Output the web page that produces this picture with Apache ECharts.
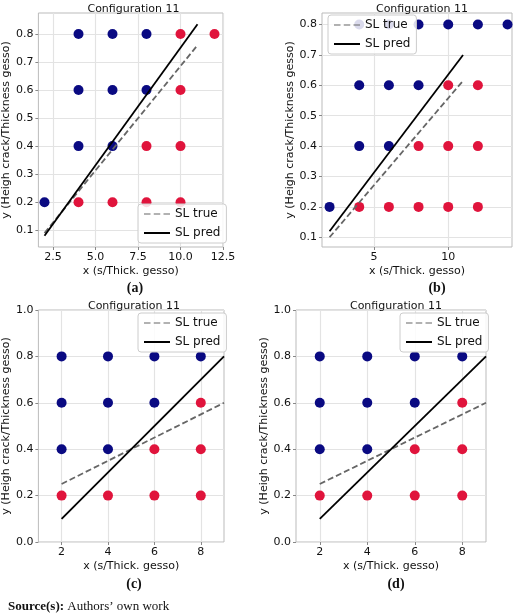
<!DOCTYPE html>
<html>
<head>
<meta charset="utf-8">
<script src="https://cdn.jsdelivr.net/npm/echarts@6.0.0/dist/echarts.min.js"></script>
<style>html,body{margin:0;background:#fff}#myChart{width:520px;height:613px}</style>
</head>
<body>
<div id="myChart"></div>
<script>
// points per panel: [x, y]
var BLUE_A = [[2,0.2],[4,0.4],[4,0.6],[4,0.8],[6,0.4],[6,0.6],[6,0.8],[8,0.6],[8,0.8]];
var RED_A = [[4,0.2],[6,0.2],[8,0.2],[10,0.2],[8,0.4],[10,0.4],[10,0.6],[10,0.8],[12,0.8]];
var TRUE_A = [[2,0.09],[11,0.76]];
var PRED_A = [[2,0.08],[11,0.835]];

var BLUE_B = [[2,0.2],[4,0.4],[6,0.4],[4,0.6],[6,0.6],[8,0.6],[4,0.8],[6,0.8],[8,0.8],[10,0.8],[12,0.8],[14,0.8]];
var RED_B = [[4,0.2],[6,0.2],[8,0.2],[10,0.2],[12,0.2],[8,0.4],[10,0.4],[12,0.4],[10,0.6],[12,0.6]];
var TRUE_B = [[2,0.10],[11,0.615]];
var PRED_B = [[2,0.12],[11,0.70]];

var BLUE_C = [[2,0.4],[2,0.6],[2,0.8],[4,0.4],[4,0.6],[4,0.8],[6,0.6],[6,0.8],[8,0.8]];
var RED_C = [[2,0.2],[4,0.2],[6,0.2],[6,0.4],[8,0.2],[8,0.4],[8,0.6]];
var TRUE_C = [[2,0.25],[9,0.6]];
var PRED_C = [[2,0.1],[9,0.8]];

var XTICKS_A = [2.5,5,7.5,10,12.5];
var XTICKS_B = [5,10];
var XTICKS_CD = [2,4,6,8];
var YTICKS_AB = [0.1,0.2,0.3,0.4,0.5,0.6,0.7,0.8];
var YTICKS_CD = [0,0.2,0.4,0.6,0.8,1.0];

var FONT = 'DejaVu Sans';
var DASH_ICON = 'path://M0,0h6v1h-6z M9,0h6v1h-6z M18,0h6v1h-6z';
var panels = [
  {grid:{left:34,top:13,width:189,height:234}, x:[1.64,12.5], y:[0.04,0.875], xt:XTICKS_A, xd:1, yt:YTICKS_AB,
   blue:BLUE_A, red:RED_A, tru:TRUE_A, pred:PRED_A, legend:{left:138,top:204}, tag:'(a)', tagX:130, tagY:276},
  {grid:{left:322,top:13,width:190,height:234}, x:[1.49,14.3], y:[0.068,0.838], xt:XTICKS_B, xd:0, yt:YTICKS_AB,
   blue:BLUE_B, red:RED_B, tru:TRUE_B, pred:PRED_B, legend:{left:328,top:15}, tag:'(b)', tagX:432, tagY:276},
  {grid:{left:34,top:310,width:190,height:232}, x:[1,9], y:[0,1], xt:XTICKS_CD, xd:0, yt:YTICKS_CD,
   blue:BLUE_C, red:RED_C, tru:TRUE_C, pred:PRED_C, legend:{left:138,top:313}, tag:'(c)', tagX:129, tagY:572},
  {grid:{left:296,top:310,width:190,height:232}, x:[1,9], y:[0,1], xt:XTICKS_CD, xd:0, yt:YTICKS_CD,
   blue:BLUE_C, red:RED_C, tru:TRUE_C, pred:PRED_C, legend:{left:400,top:313}, tag:'(d)', tagX:391, tagY:572}
];

var option = {animation:false, grid:[], xAxis:[], yAxis:[], series:[], legend:[], title:[]};
panels.forEach(function (p, i) {
  option.grid.push(Object.assign({show:true, borderColor:'#bbb', borderWidth:1, backgroundColor:'#fff'}, p.grid));
  option.xAxis.push({
    type:'value', gridIndex:i, min:p.x[0], max:p.x[1],
    name:'x (s/Thick. gesso)', nameLocation:'middle', nameGap:19,
    nameTextStyle:{fontFamily:FONT, fontSize:11, color:'#111'},
    axisLine:{show:false}, axisTick:{show:true, length:3, lineStyle:{color:'#888'}, customValues:p.xt},
    axisLabel:{fontFamily:FONT, fontSize:11, color:'#111', margin:5, customValues:p.xt,
      formatter:function (v) { return v.toFixed(p.xd); }},
    splitLine:{show:true, lineStyle:{color:'#e3e3e3', width:1.2}}
  });
  option.yAxis.push({
    type:'value', gridIndex:i, min:p.y[0], max:p.y[1],
    name:'y (Heigh crack/Thickness gesso)', nameLocation:'middle', nameGap:25,
    nameTextStyle:{fontFamily:FONT, fontSize:11, color:'#111'},
    axisLine:{show:false}, axisTick:{show:true, length:3, lineStyle:{color:'#888'}, customValues:p.yt},
    axisLabel:{fontFamily:FONT, fontSize:11, color:'#111', margin:5, customValues:p.yt,
      formatter:function (v) { return v.toFixed(1); }},
    splitLine:{show:true, lineStyle:{color:'#e3e3e3', width:1.2}}
  });
  option.series.push(
    {type:'scatter', xAxisIndex:i, yAxisIndex:i, symbolSize:10, data:p.blue, itemStyle:{color:'#0a0a82', opacity:1}, z:2},
    {type:'scatter', xAxisIndex:i, yAxisIndex:i, symbolSize:10, data:p.red, itemStyle:{color:'#e0143c', opacity:1}, z:2},
    {type:'line', name:'SL true', xAxisIndex:i, yAxisIndex:i, data:p.tru, symbol:'none',
      lineStyle:{color:'#666', width:1.8, type:[6,3]}, itemStyle:{color:'#666'}, z:3},
    {type:'line', name:'SL pred', xAxisIndex:i, yAxisIndex:i, data:p.pred, symbol:'none',
      lineStyle:{color:'#000', width:1.8}, itemStyle:{color:'#000'}, z:3}
  );
  option.legend.push({
    left:p.legend.left, top:p.legend.top, orient:'vertical',
    data:[{name:'SL true', icon:DASH_ICON}, {name:'SL pred', icon:'rect'}],
    backgroundColor:'rgba(255,255,255,0.85)', borderColor:'#ccc', borderWidth:1, borderRadius:3,
    padding:[4,6], itemGap:7, itemWidth:26, itemHeight:2,
    textStyle:{fontFamily:FONT, fontSize:12, color:'#111'}, selectedMode:false
  });
  option.title.push({
    text:'Configuration 11', left:p.grid.left + p.grid.width / 2, top:p.grid.top - 14, textAlign:'center',
    textStyle:{fontFamily:FONT, fontSize:11, fontWeight:'normal', color:'#111'}
  });
  option.title.push({
    text:p.tag, left:p.tagX, top:p.tagY, textAlign:'center',
    textStyle:{fontFamily:'Liberation Serif', fontSize:14, fontWeight:'bold', color:'#111'}
  });
});
option.title.push({
  text:'{b|Source(s):} Authors\u2019 own work', left:3, top:595,
  textStyle:{fontFamily:'Liberation Serif', fontSize:13, fontWeight:'normal', color:'#111',
    rich:{b:{fontFamily:'Liberation Serif', fontSize:13, fontWeight:'bold', color:'#111'}}}
});

var myChart = echarts.init(document.getElementById('myChart'));
myChart.setOption(option);
</script>
</body>
</html>
